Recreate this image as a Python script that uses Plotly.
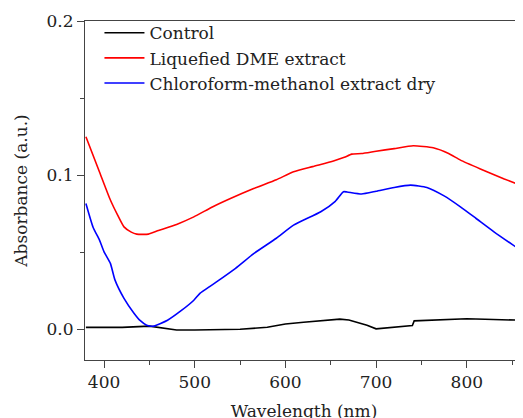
import plotly.graph_objects as go

# Control (black)
ctrl_x = [380, 400, 420, 450, 470, 480, 500, 520, 550, 580, 600, 620, 640, 650, 660, 670, 680, 690, 700, 710, 720, 740, 742, 760, 780, 800, 820, 840, 862]
ctrl_y = [0.0012, 0.0010, 0.0012, 0.0020, 0.0005, -0.0005, -0.0005, -0.0003, 0.0000, 0.0012, 0.0034, 0.0045, 0.0055, 0.0063, 0.0065, 0.0060, 0.0045, 0.0025, 0.0002, 0.0008, 0.0012, 0.0024, 0.0054, 0.0058, 0.0062, 0.0068, 0.0064, 0.0060, 0.0058]

# Liquefied DME extract (red)
dme_x = [380, 395, 407, 415, 422, 430, 436, 449, 460, 480, 499, 520, 540, 565, 590, 609, 630, 653, 665, 673, 684, 700, 720, 741, 763, 780, 793, 815, 840, 862]
dme_y = [0.1249, 0.1020, 0.0838, 0.0740, 0.0664, 0.0630, 0.0617, 0.0617, 0.0640, 0.0680, 0.0729, 0.0795, 0.0850, 0.0913, 0.0970, 0.1021, 0.1055, 0.1091, 0.1115, 0.1136, 0.1140, 0.1155, 0.1172, 0.1190, 0.1177, 0.1140, 0.1097, 0.1040, 0.0978, 0.0929]

# Chloroform-methanol extract dry (blue)
cm_x = [380, 388, 395, 400, 407, 412, 422, 433, 440, 447, 455, 470, 485, 499, 506, 516, 524, 545, 565, 590, 609, 639, 655, 664, 668, 684, 700, 720, 738, 756, 775, 793, 810, 830, 850, 862]
cm_y = [0.0816, 0.0660, 0.0578, 0.0502, 0.0427, 0.0320, 0.0200, 0.0104, 0.0055, 0.0026, 0.0020, 0.0058, 0.0120, 0.0188, 0.0234, 0.0275, 0.0307, 0.0395, 0.0490, 0.0590, 0.0675, 0.0762, 0.0830, 0.0892, 0.0890, 0.0877, 0.0895, 0.0920, 0.0935, 0.0920, 0.0865, 0.0794, 0.0720, 0.0632, 0.0550, 0.0502]

x_ticks = [400, 500, 600, 700, 800]
y_ticks = [0.0, 0.1, 0.2]
y_tick_labels = ["0.0", "0.1", "0.2"]

FONT = "DejaVu Serif"
AX = "#444444"

fig = go.Figure()
fig.add_trace(go.Scatter(x=ctrl_x, y=ctrl_y, mode="lines", name="Control",
                         line=dict(color="black", width=1.6)))
fig.add_trace(go.Scatter(x=dme_x, y=dme_y, mode="lines", name="Liquefied DME extract",
                         line=dict(color="#ff0000", width=1.6, shape="spline", smoothing=0.5)))
fig.add_trace(go.Scatter(x=cm_x, y=cm_y, mode="lines", name="Chloroform-methanol extract dry",
                         line=dict(color="#0000ff", width=1.6, shape="spline", smoothing=0.5)))

fig.update_layout(
    width=523, height=418,
    margin=dict(l=77, r=8, t=13, b=66, autoexpand=False),
    paper_bgcolor="white", plot_bgcolor="white",
    font=dict(family=FONT, size=17, color="#222222"),
    showlegend=True,
    legend=dict(x=0.033, y=1.017, xanchor="left", yanchor="top",
                bgcolor="rgba(0,0,0,0)", font=dict(family=FONT, size=17, color="#222222"),
                tracegroupgap=0, itemwidth=40),
    xaxis=dict(range=[379, 862], tickvals=x_ticks, ticks="outside", ticklen=7,
               tickwidth=1, tickcolor=AX, showline=True, linecolor=AX,
               linewidth=1, mirror=True, showgrid=False, zeroline=False, automargin=False,
               minor=dict(tickvals=[450, 550, 650, 750, 850], ticks="outside", ticklen=4, tickcolor=AX),
               title=dict(text="Wavelength (nm)", font=dict(family=FONT, size=17), standoff=13),
               tickfont=dict(family=FONT, size=17)),
    yaxis=dict(range=[-0.02, 0.2], tickvals=y_ticks, ticktext=y_tick_labels, ticks="outside",
               ticklen=7, tickwidth=1, tickcolor=AX, showline=True, linecolor=AX,
               linewidth=1, mirror=False, showgrid=False, zeroline=False, automargin=False,
               minor=dict(tickvals=[0.05, 0.15], ticks="outside", ticklen=4, tickcolor=AX),
               title=dict(text="Absorbance (a.u.)", font=dict(family=FONT, size=17), standoff=14),
               tickfont=dict(family=FONT, size=17)),
)

fig.write_html("out.html")
